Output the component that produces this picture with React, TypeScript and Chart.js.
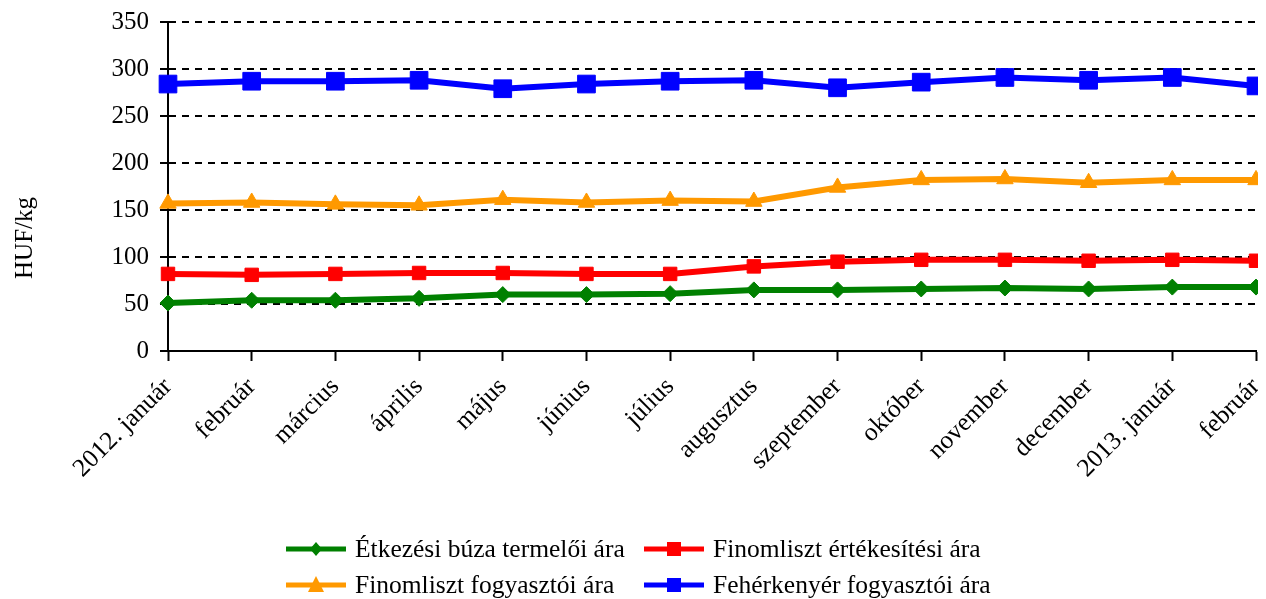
import React, { useEffect, useRef } from "react";
import { Chart, registerables } from "chart.js";

Chart.register(...registerables);

const categories = [
  "2012. január", "február", "március", "április", "május", "június", "július",
  "augusztus", "szeptember", "október", "november", "december", "2013. január", "február",
];
const wheatProducer = [51, 54, 54, 56, 60, 60, 61, 65, 65, 66, 67, 66, 68, 68];
const flourSales = [82, 81, 82, 83, 83, 82, 82, 90, 95, 97, 97, 96, 97, 96];
const flourConsumer = [157, 158, 156, 155, 161, 158, 160, 159, 174, 182, 183, 179, 182, 182];
const breadConsumer = [284, 287, 287, 288, 279, 284, 287, 288, 280, 286, 291, 288, 291, 282];
const seriesNames = [
  "Étkezési búza termelői ára",
  "Finomliszt értékesítési ára",
  "Finomliszt fogyasztói ára",
  "Fehérkenyér fogyasztói ára",
];
const yTitle = "HUF/kg";
const yMin = 0;
const yMax = 350;
const yStep = 50;

const FONT = "'Liberation Serif', 'Times New Roman', serif";
const GREEN = "#008000";
const RED = "#FF0000";
const ORANGE = "#FF9900";
const BLUE = "#0000FF";

const yTitlePlugin = {
  id: "yTitlePlugin",
  afterDraw(chart: any) {
    const { ctx, chartArea } = chart;
    ctx.save();
    ctx.font = `25px ${FONT}`;
    ctx.fillStyle = "#000";
    ctx.textAlign = "center";
    ctx.textBaseline = "middle";
    ctx.translate(17, chartArea.bottom - 113);
    ctx.rotate(-Math.PI / 2);
    ctx.fillText(yTitle, 0, 0);
    ctx.restore();
  },
};

function Marker({ kind, color }: { kind: string; color: string }) {
  let shape: any = null;
  if (kind === "diamond") shape = <polygon points="30,3 36,10 30,17 24,10" fill={color} />;
  if (kind === "square") shape = <rect x={23} y={3} width={14} height={14} fill={color} />;
  if (kind === "triangle") shape = <polygon points="30,1 38,17 22,17" fill={color} />;
  return (
    <svg width={60} height={20} style={{ display: "block" }}>
      <line x1={0} y1={10} x2={60} y2={10} stroke={color} strokeWidth={5} />
      {shape}
    </svg>
  );
}

export default function App() {
  const ref = useRef<HTMLCanvasElement | null>(null);

  useEffect(() => {
    document.documentElement.style.overflow = "hidden";
    document.body.style.overflow = "hidden";
    if (!ref.current) return;
    const mk = (label: string, data: number[], color: string, style: string, r: number) => ({
      label,
      data,
      borderColor: color,
      backgroundColor: color,
      borderWidth: 6,
      pointStyle: style,
      pointRadius: r,
      pointHoverRadius: r,
      pointBorderWidth: 1,
      pointBorderColor: color,
      pointBackgroundColor: color,
      tension: 0,
      clip: false,
    });
    const chart = new Chart(ref.current, {
      type: "line",
      data: {
        labels: categories,
        datasets: [
          mk(seriesNames[0], wheatProducer, GREEN, "rectRot", 8),
          mk(seriesNames[1], flourSales, RED, "rect", 9.5),
          mk(seriesNames[2], flourConsumer, ORANGE, "triangle", 9.5),
          mk(seriesNames[3], breadConsumer, BLUE, "rect", 12.5),
        ],
      },
      options: {
        animation: false,
        responsive: true,
        maintainAspectRatio: false,
        layout: { autoPadding: false, padding: { top: 14, right: 10, bottom: 100, left: 0 } },
        plugins: { legend: { display: false }, tooltip: { enabled: false } },
        scales: {
          x: {
            offset: false,
            grid: {
              display: true,
              drawOnChartArea: false,
              drawTicks: true,
              tickLength: 10,
              tickColor: "#000",
              tickWidth: 2,
            },
            border: { display: true, color: "#000", width: 2 },
            ticks: {
              color: "#000",
              font: { family: FONT, size: 25.5 },
              maxRotation: 45,
              minRotation: 45,
              autoSkip: false,
              padding: 11,
            },
            afterFit(scale: any) {
              scale.height = 140;
              scale.paddingLeft = 0;
              scale.paddingRight = 0;
            },
          },
          y: {
            min: yMin,
            max: yMax,
            grid: {
              color: "#000",
              lineWidth: 2,
              drawTicks: true,
              tickLength: 8,
              tickColor: "#000",
              tickWidth: 2,
              tickBorderDash: [],
            },
            border: { display: true, color: "#000", width: 2, dash: [7, 6] },
            ticks: {
              stepSize: yStep,
              color: "#000",
              font: { family: FONT, size: 25 },
              padding: 11,
            },
            afterFit(scale: any) {
              scale.width = 160;
              scale.paddingTop = 0;
              scale.paddingBottom = 0;
            },
          },
        },
      } as any,
      plugins: [yTitlePlugin],
    });
    return () => chart.destroy();
  }, []);

  const legendItems = [
    { name: seriesNames[0], kind: "diamond", color: GREEN },
    { name: seriesNames[1], kind: "square", color: RED },
    { name: seriesNames[2], kind: "triangle", color: ORANGE },
    { name: seriesNames[3], kind: "square", color: BLUE },
  ];

  return (
    <div style={{ position: "relative", width: 1258, height: 591, overflow: "hidden" }}>
      <div style={{ position: "absolute", left: 0, top: 0, width: 1258, height: 583 }}>
        <canvas ref={ref} />
      </div>
      <div
        style={{
          position: "absolute",
          left: 278,
          top: 523,
          display: "grid",
          gridTemplateColumns: "358px auto",
          fontFamily: FONT,
          fontSize: 25.5,
          color: "#000",
        }}
      >
        {legendItems.map((it) => (
          <div key={it.name} style={{ display: "flex", alignItems: "center", height: 36, whiteSpace: "nowrap" }}>
            <Marker kind={it.kind} color={it.color} />
            <span style={{ marginLeft: 9, lineHeight: "36px" }}>{it.name}</span>
          </div>
        ))}
      </div>
    </div>
  );
}
